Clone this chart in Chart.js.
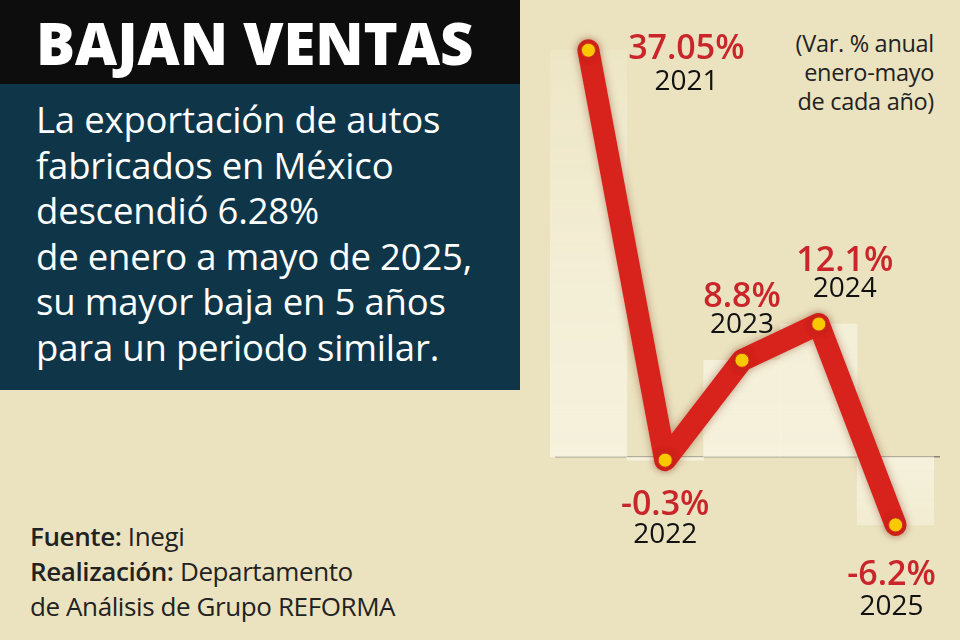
<!DOCTYPE html>
<html>
<head>
<meta charset="utf-8">
<script src="https://cdn.jsdelivr.net/npm/chart.js@4.4.0/dist/chart.umd.min.js"></script>
<style>
  html, body { margin: 0; padding: 0; }
  body { width: 960px; height: 640px; background: #ebe3bf; position: relative; overflow: hidden; font-family: 'Open Sans', sans-serif; }
  #title { position: absolute; left: 0; top: 0; width: 520px; height: 84px; background: #0d0d0d; color: #fff; font-weight: 800; font-size: 58px; line-height: 86px; padding-left: 36px; box-sizing: border-box; }
  #desc { position: absolute; left: 0; top: 84px; width: 520px; height: 306px; background: #0f3648; color: #fff; font-size: 36.5px; line-height: 45.5px; padding: 13px 0 0 36px; box-sizing: border-box; font-weight: 500; letter-spacing: -0.2px; }
  #src { position: absolute; left: 30px; top: 519px; font-size: 26px; line-height: 35px; color: #222; letter-spacing: -0.4px; }
  #src b { font-weight: 600; }
  #note { position: absolute; right: 26px; top: 29px; font-size: 23.5px; line-height: 29px; text-align: right; color: #222; letter-spacing: -0.3px; }
  #wrap { position: absolute; left: 542px; top: 0; width: 400px; height: 640px; }
</style>
</head>
<body>
<div id="title">BAJAN VENTAS</div>
<div id="desc">La exportación de autos<br>fabricados en México<br>descendió 6.28%<br>de enero a mayo de 2025,<br>su mayor baja en 5 años<br>para un periodo similar.</div>
<div id="src"><b>Fuente:</b> Inegi<br><b>Realización:</b> Departamento<br>de Análisis de Grupo REFORMA</div>
<div id="note">(Var. % anual<br>enero-mayo<br>de cada año)</div>
<div id="wrap"><canvas id="c"></canvas></div>
<script>
var years = ['2021', '2022', '2023', '2024', '2025'];
var values = [37.05, -0.3, 8.8, 12.1, -6.2];
var valueLabels = ['37.05%', '-0.3%', '8.8%', '12.1%', '-6.2%'];

// label offsets relative to each point: [dx, dy value, dy year]
var labelPos = [[98, -1, 32], [0, 45, 75], [0, -63, -35], [26, -63, -35], [-4, 50, 82]];

var labelPlugin = {
  id: 'labels',
  beforeDatasetsDraw: function(chart) {
    var ctx = chart.ctx, y = chart.scales.y;
    var y0 = y.getPixelForValue(0);
    ctx.save();
    ctx.strokeStyle = '#8a8670';
    ctx.lineWidth = 1.5;
    ctx.beginPath();
    ctx.moveTo(13, y0); ctx.lineTo(398, y0);
    ctx.stroke();
    ctx.restore();
  },
  afterDatasetsDraw: function(chart) {
    var ctx = chart.ctx;
    var meta = chart.getDatasetMeta(1);
    ctx.save();
    ctx.textAlign = 'center';
    ctx.textBaseline = 'middle';
    meta.data.forEach(function(p, i) {
      var o = labelPos[i];
      ctx.font = '600 34px "Open Sans", sans-serif';
      ctx.fillStyle = '#c9252a';
      ctx.fillText(valueLabels[i], p.x + o[0], p.y + o[1]);
      ctx.font = '500 28px "Open Sans", sans-serif';
      ctx.fillStyle = '#111';
      ctx.fillText(years[i], p.x + o[0], p.y + o[2]);
    });
    ctx.restore();
  }
};

var shadowPlugin = {
  id: 'shadow',
  beforeDatasetDraw: function(chart, args) {
    if (args.index === 1) {
      chart.ctx.save();
      chart.ctx.shadowColor = 'rgba(120,40,20,0.45)';
      chart.ctx.shadowBlur = 8;
    }
  },
  afterDatasetDraw: function(chart, args) {
    if (args.index === 1) chart.ctx.restore();
  }
};

function bandFill(ctx) {
  var chart = ctx.chart, area = chart.chartArea;
  if (!area) return '#f5f0dc';
  var y0 = chart.scales.y.getPixelForValue(0);
  var g = chart.ctx.createLinearGradient(0, area.top, 0, area.bottom);
  var t0 = (y0 - area.top) / (area.bottom - area.top);
  g.addColorStop(0, 'rgba(250,247,232,0.1)');
  g.addColorStop(t0 * 0.6, 'rgba(250,247,232,0.55)');
  g.addColorStop(t0, 'rgba(250,247,232,0.7)');
  g.addColorStop(Math.min(1, t0 + 0.2), 'rgba(250,247,232,0.25)');
  g.addColorStop(1, 'rgba(250,247,232,0)');
  return g;
}

new Chart(document.getElementById('c'), {
  data: {
    labels: years,
    datasets: [{
      type: 'bar',
      data: values,
      backgroundColor: bandFill,
      barPercentage: 1,
      categoryPercentage: 1,
      borderWidth: 0,
      order: 2
    }, {
      type: 'line',
      data: values,
      borderColor: '#d8221c',
      borderWidth: 22,
      borderJoinStyle: 'round',
      borderCapStyle: 'round',
      pointRadius: 7,
      pointBackgroundColor: '#ffd200',
      pointBorderColor: '#e0301c',
      pointBorderWidth: 1,
      tension: 0,
      order: 1
    }]
  },
  options: {
    responsive: true,
    maintainAspectRatio: false,
    animation: false,
    layout: { padding: 0 },
    plugins: { legend: { display: false }, tooltip: { enabled: false } },
    scales: {
      x: { display: false, offset: true },
      y: { display: false, min: -15.96, max: 40.9 }
    }
  },
  plugins: [labelPlugin, shadowPlugin]
});
</script>
</body>
</html>
